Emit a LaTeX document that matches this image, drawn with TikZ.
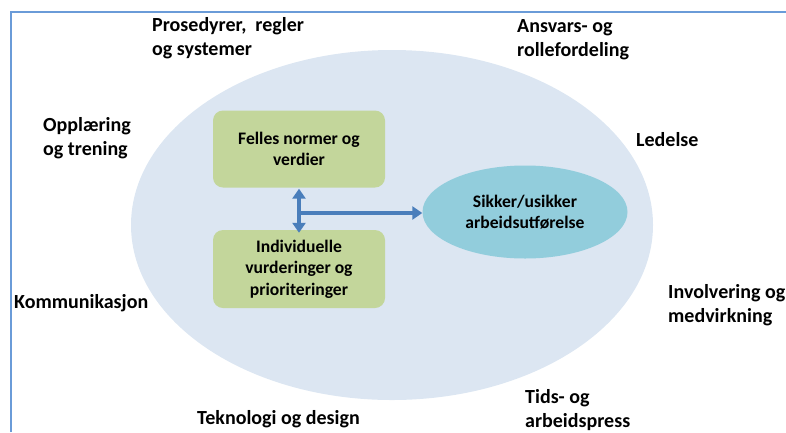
\documentclass[tikz,border=0pt]{standalone}
\usepackage{fontspec}
\setmainfont{Carlito}
\usetikzlibrary{arrows.meta,shapes.geometric}

\definecolor{outerfill}{HTML}{DCE6F2}
\definecolor{boxfill}{HTML}{C3D69B}
\definecolor{corefill}{HTML}{92CDDC}
\definecolor{arrowblue}{HTML}{4A7EBB}
\definecolor{framecol}{HTML}{6A9BD8}

\tikzset{
  factor/.style={anchor=base west, inner sep=0pt, align=left,
    font=\fontsize{20}{24}\selectfont\bfseries},
  greenbox/.style={fill=boxfill, rounded corners=10pt, minimum width=172pt,
    align=center, font=\fontsize{17.6}{21.5}\selectfont\bfseries},
  link/.style={draw=arrowblue, line width=3.6pt,
    -{Triangle[length=10pt,width=13pt]}},
  biglink/.style={draw=arrowblue, line width=3.6pt,
    {Triangle[length=10pt,width=13pt]}-{Triangle[length=10pt,width=13pt]}},
}

\begin{document}
\begin{tikzpicture}[x=1pt,y=-1pt]
  \useasboundingbox (0,0) rectangle (786,432);

  % outer frame (left and top edges)
  \draw[framecol, line width=1.6pt] (11,432) -- (11,12) -- (786,12);

  % context ellipse
  \node[ellipse, fill=outerfill, minimum width=522pt, minimum height=350pt,
        inner sep=0pt] (context) at (392,225) {};

  % inner boxes
  \node[greenbox, minimum height=77pt] (norms) at (299,149)
    {Felles normer og\\verdier};
  \node[greenbox, minimum height=78pt] (individual) at (299,269)
    {Individuelle\\vurderinger og\\prioriteringer};

  % outcome ellipse
  \node[ellipse, fill=corefill, minimum width=205pt, minimum height=93pt,
        inner sep=0pt, align=center,
        font=\fontsize{17.6}{21.5}\selectfont\bfseries] (outcome) at (525,212)
    {Sikker/usikker\\arbeidsutførelse};

  % connectors
  \coordinate (junction) at (297.2,213);
  \draw[biglink] ([yshift=-1pt]norms.south) -- ([yshift=-3pt]individual.north);
  \draw[link] (junction) -- (junction -| outcome.west);

  % surrounding factors (multi-line nodes are placed by their last baseline)
  \node[factor] (procedures) at (152,55) {Prosedyrer,\ \ regler\\og systemer};
  \node[factor] (roles) at (517,56) {Ansvars- og\\rollefordeling};
  \node[factor] (training) at (43,155) {Opplæring\\og trening};
  \node[factor] (leadership) at (636,146) {Ledelse};
  \node[factor] (communication) at (14,308) {Kommunikasjon};
  \node[factor] (involvement) at (668,322) {Involvering og\\medvirkning};
  \node[factor] (pressure) at (525,427) {Tids- og\\arbeidspress};
  \node[factor] (technology) at (197,424) {Teknologi og design};
\end{tikzpicture}
\end{document}
